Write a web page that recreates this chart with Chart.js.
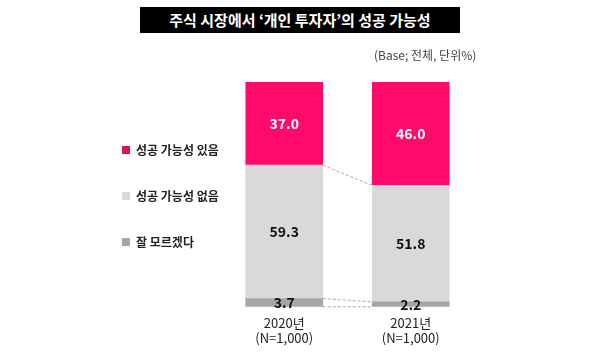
<!DOCTYPE html>
<html><head><meta charset="utf-8">
<script src="https://cdn.jsdelivr.net/npm/chart.js@4/dist/chart.umd.min.js"></script>
<style>
html,body{margin:0;padding:0;background:#fff;}
#wrap{position:relative;width:600px;height:357px;}
canvas{position:absolute;left:0;top:0;}
#title{position:absolute;left:140px;top:7px;width:320px;height:26px;background:#000;color:#fff;font:bold 15px "Noto Sans CJK KR",sans-serif;text-align:center;line-height:26px;}
#sub{position:absolute;left:374px;top:46px;font:12px "Noto Sans CJK KR",sans-serif;color:#444;}
</style></head><body>
<div id="wrap">
<canvas id="c" width="600" height="357"></canvas>
<div id="title">주식 시장에서 ‘개인 투자자’의 성공 가능성</div>
<div id="sub">(Base; 전체, 단위%)</div>
</div>
<script>
const categories = [['2020년','(N=1,000)'], ['2021년','(N=1,000)']];
const seriesNames = ['잘 모르겠다', '성공 가능성 없음', '성공 가능성 있음'];
const dontKnow = [3.7, 2.2];
const noChance = [59.3, 51.8];
const yesChance = [37.0, 46.0];
const colors = ['#a6a6a6', '#d9d9d9', '#ff0a6a'];
const labelColors = ['#111', '#111', '#fff'];

const overlay = {
  id: 'overlay',
  afterDatasetsDraw(chart) {
    const ctx = chart.ctx;
    ctx.save();
    ctx.strokeStyle = '#aaa';
    ctx.lineWidth = 1;
    ctx.setLineDash([3, 2]);
    const m0 = chart.getDatasetMeta(0).data, m2 = chart.getDatasetMeta(2).data;
    const lines = [
      [m2[0].base, m2[1].base],
      [m0[0].y, m0[1].y],
      [m0[0].base, m0[1].base]
    ];
    for (const [y0, y1] of lines) {
      const a = m0[0], b = m0[1];
      ctx.beginPath();
      ctx.moveTo(a.x + a.width / 2, y0);
      ctx.lineTo(b.x - b.width / 2, y1);
      ctx.stroke();
    }
    ctx.restore();
    ctx.save();
    ctx.textAlign = 'center';
    ctx.textBaseline = 'middle';
    chart.data.datasets.forEach((ds, i) => {
      chart.getDatasetMeta(i).data.forEach((el, j) => {
        const v = ds.data[j];
        ctx.fillStyle = labelColors[i];
        ctx.font = 'bold 14px "Noto Sans CJK KR", sans-serif';
        ctx.fillText(v.toFixed(1), el.x, (el.y + el.base) / 2);
      });
    });
    ctx.restore();
    ctx.save();
    ctx.textBaseline = 'middle';
    ctx.font = 'bold 12px "Noto Sans CJK KR", sans-serif';
    const ys = [150, 196, 242];
    [2, 1, 0].forEach((di, k) => {
      ctx.fillStyle = di === 2 ? '#e0115f' : colors[di];
      ctx.fillRect(122, ys[k] - 4, 8, 8);
      ctx.fillStyle = '#222';
      ctx.fillText(seriesNames[di], 136, ys[k]);
    });
    ctx.restore();
  }
};

new Chart(document.getElementById('c'), {
  type: 'bar',
  data: {
    labels: categories,
    datasets: [
      { label: seriesNames[0], data: dontKnow, backgroundColor: colors[0] },
      { label: seriesNames[1], data: noChance, backgroundColor: colors[1] },
      { label: seriesNames[2], data: yesChance, backgroundColor: colors[2] }
    ]
  },
  options: {
    responsive: false,
    animation: false,
    layout: { padding: { left: 221, right: 126, top: 82, bottom: 3 } },
    datasets: { bar: { barThickness: 77 } },
    plugins: { legend: { display: false }, tooltip: { enabled: false } },
    scales: {
      x: {
        stacked: true,
        grid: { display: false, drawTicks: false },
        border: { display: false },
        ticks: { padding: 8, color: '#222', font: { size: 13, family: '"Noto Sans CJK KR", sans-serif', lineHeight: 1.2 } }
      },
      y: { stacked: true, display: false, min: 0, max: 100 }
    }
  },
  plugins: [overlay]
});
</script>
</body></html>
